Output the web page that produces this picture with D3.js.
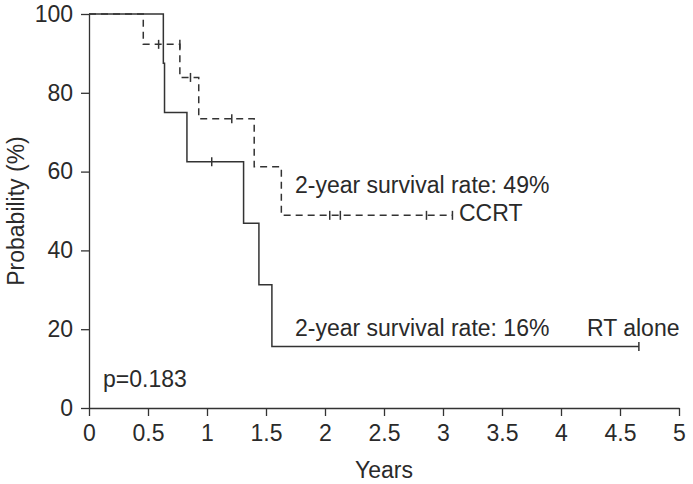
<!DOCTYPE html>
<html>
<head>
<meta charset="utf-8">
<script src="https://cdn.jsdelivr.net/npm/d3@7"></script>
<style>
  body { margin: 0; background: #fff; }
  svg text { font-family: "Liberation Sans", Arial, sans-serif; fill: #2a2a2a; }
</style>
</head>
<body>
<svg id="chart" width="693" height="484"></svg>
<script>
// RT alone (solid) - step times and survival %
const rtTimes = [0, 0.63, 0.64, 0.83, 1.31, 1.44, 1.55, 4.66]
const rtSurv = [100, 87.5, 75, 62.5, 46.9, 31.3, 15.6, 15.6]
const rtCensorTimes = [1.04, 4.66]
const rtCensorSurv = [62.5, 15.6]

// CCRT (dashed)
const ccrtTimes = [0, 0.46, 0.77, 0.93, 1.40, 1.63, 3.08]
const ccrtSurv = [100, 92.3, 83.9, 73.4, 61.2, 48.9, 48.9]
const ccrtCensorTimes = [0.59, 0.77, 0.86, 1.21, 2.04, 2.13, 2.86, 3.08]
const ccrtCensorSurv = [92.3, 92.3, 83.9, 73.4, 48.9, 48.9, 48.9, 48.9]

const xTicks = [0, 0.5, 1, 1.5, 2, 2.5, 3, 3.5, 4, 4.5, 5]
const yTicks = [0, 20, 40, 60, 80, 100]

const margin = {top: 14, right: 14, bottom: 76, left: 89}
const width = 693, height = 484
const ink = '#333'
const fs = 23

const svg = d3.select('#chart')

const x = d3.scaleLinear().domain([0, 5]).range([margin.left, width - margin.right])
const y = d3.scaleLinear().domain([0, 100]).range([height - margin.bottom, margin.top])

// axes
const xAxis = svg.append('g')
  .attr('transform', `translate(0,${y(0)})`)
  .call(d3.axisBottom(x).tickValues(xTicks).tickSize(8).tickPadding(9).tickSizeOuter(0)
    .tickFormat(d => d3.format('')(d)))
const yAxis = svg.append('g')
  .attr('transform', `translate(${x(0)},0)`)
  .call(d3.axisLeft(y).tickValues(yTicks).tickSize(8).tickPadding(8).tickSizeOuter(0))

;[xAxis, yAxis].forEach(a => {
  a.selectAll('path, line').attr('stroke', ink).attr('stroke-width', 1.3)
  a.selectAll('text').attr('font-size', fs).attr('fill', '#2a2a2a')
})

svg.append('text')
  .attr('x', (x(0) + x(5)) / 2).attr('y', 478)
  .attr('text-anchor', 'middle').attr('font-size', fs)
  .text('Years')

svg.append('text')
  .attr('transform', `translate(24,${(y(0) + y(100)) / 2}) rotate(-90)`)
  .attr('text-anchor', 'middle').attr('font-size', fs)
  .text('Probability (%)')

const step = d3.line().x(d => x(d[0])).y(d => y(d[1])).curve(d3.curveStepAfter)

const plot = svg.append('g')

plot.append('path')
  .datum(d3.zip(ccrtTimes, ccrtSurv))
  .attr('d', step)
  .attr('fill', 'none').attr('stroke', ink).attr('stroke-width', 1.5)
  .attr('stroke-dasharray', '7,5')

plot.append('path')
  .datum(d3.zip(rtTimes, rtSurv))
  .attr('d', step)
  .attr('fill', 'none').attr('stroke', ink).attr('stroke-width', 1.5)

// censor marks
const censors = d3.zip(ccrtCensorTimes, ccrtCensorSurv).concat(d3.zip(rtCensorTimes, rtCensorSurv))
plot.selectAll('.censor')
  .data(censors)
  .join('line')
  .attr('class', 'censor')
  .attr('x1', d => x(d[0])).attr('x2', d => x(d[0]))
  .attr('y1', d => y(d[1]) - 4.5).attr('y2', d => y(d[1]) + 4.5)
  .attr('stroke', ink).attr('stroke-width', 1.5)

// annotations
const notes = [
  {text: '2-year survival rate: 49%', x: 295, y: 193},
  {text: 'CCRT', x: 459, y: 221},
  {text: '2-year survival rate: 16%', x: 295, y: 336},
  {text: 'RT alone', x: 587, y: 336},
  {text: 'p=0.183', x: 103, y: 387}
]
svg.selectAll('.note')
  .data(notes)
  .join('text')
  .attr('class', 'note')
  .attr('x', d => d.x).attr('y', d => d.y)
  .attr('font-size', fs)
  .text(d => d.text)
</script>
</body>
</html>
